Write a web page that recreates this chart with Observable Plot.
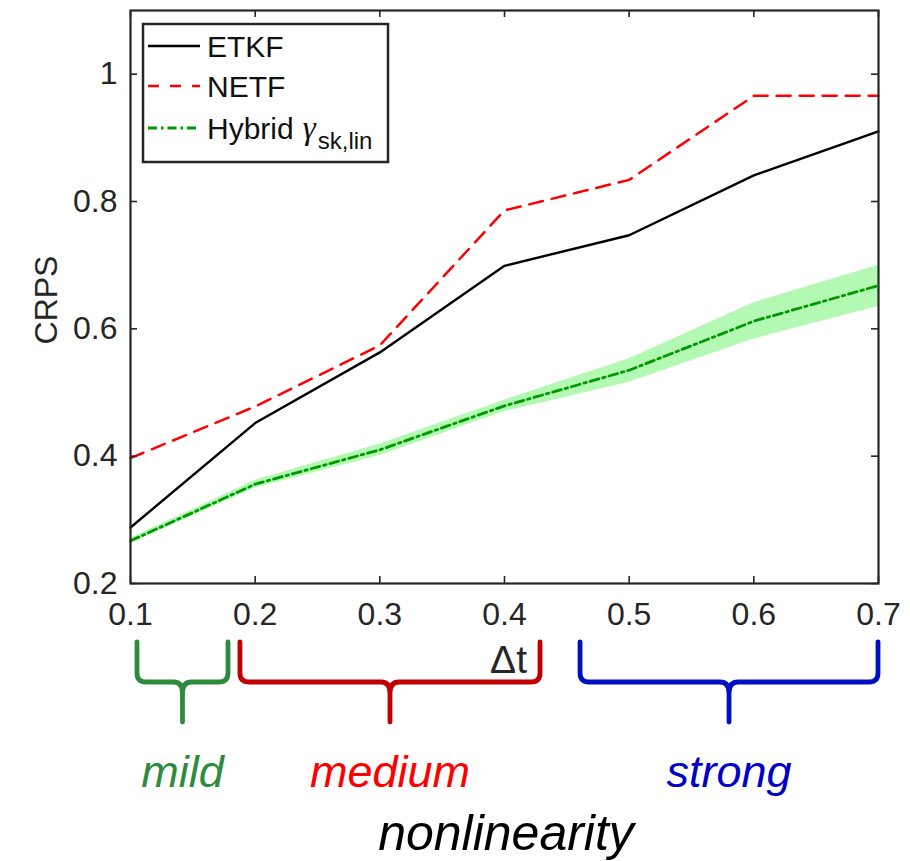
<!DOCTYPE html>
<html>
<head>
<meta charset="utf-8">
<script src="https://cdn.jsdelivr.net/npm/d3@7"></script>
<script src="https://cdn.jsdelivr.net/npm/@observablehq/plot@0.6"></script>
<style>
  html, body { margin: 0; padding: 0; background: #fff; }
  #chart svg { display: block; }
</style>
</head>
<body>
<div id="chart"></div>
<script>
// ---- data ----
const dt = [0.1, 0.2, 0.3, 0.4, 0.5, 0.6, 0.7];
const etkf = [0.288, 0.452, 0.563, 0.699, 0.747, 0.841, 0.910];
const netf = [0.397, 0.478, 0.574, 0.786, 0.834, 0.966, 0.966];
const hybrid = [0.267, 0.356, 0.410, 0.479, 0.535, 0.612, 0.668];
const hybridLo = [0.263, 0.350, 0.401, 0.470, 0.516, 0.584, 0.635];
const hybridHi = [0.271, 0.362, 0.419, 0.488, 0.553, 0.641, 0.700];
const xTicks = [0.1, 0.2, 0.3, 0.4, 0.5, 0.6, 0.7];
const yTicks = [0.2, 0.4, 0.6, 0.8, 1];
const seriesNames = ["ETKF", "NETF", "Hybrid"];
const regionNames = ["mild", "medium", "strong"];
const regionStart = [0.1056, 0.1882, 0.461];
const regionEnd = [0.1786, 0.4289, 0.700];

// ---- styles ----
const ink = "#262626";
const font = "'Liberation Sans', Arial, Helvetica, sans-serif";
const seriesStyle = [
  {stroke: "#000000", dash: null, width: 2.4},
  {stroke: "#ff0000", dash: "14,9", width: 2.5},
  {stroke: "#009a00", dash: "9,4,2.5,4", width: 2.8}
];
const regionBraceColor = ["#2e8b3d", "#c00000", "#0010c0"];
const regionTextColor = ["#2e8b3d", "#ff0000", "#0000c8"];

const rows = dt.map((x, i) => ({x, etkf: etkf[i], netf: netf[i], hyb: hybrid[i], lo: hybridLo[i], hi: hybridHi[i]}));

const W = 910, H = 861;
const mL = 130, mR = 32, mT = 10, mB = 278;
const frameW = W - mL - mR, frameH = H - mT - mB;
const tick = 7;

function legendMark(index, scales, values, dims) {
  const g = d3.create("svg:g").attr("font-family", font).attr("text-anchor", "start");
  const bx = dims.marginLeft + 13, by = dims.marginTop + 14;
  g.append("rect").attr("x", bx).attr("y", by).attr("width", 245).attr("height", 138)
    .attr("fill", "white").attr("stroke", ink).attr("stroke-width", 2.5);
  const rowY = [by + 22, by + 62, by + 104];
  seriesNames.forEach((name, i) => {
    const s = seriesStyle[i];
    g.append("line").attr("x1", bx + 5).attr("x2", bx + 57).attr("y1", rowY[i]).attr("y2", rowY[i])
      .attr("stroke", s.stroke).attr("stroke-width", s.width)
      .attr("stroke-dasharray", i === 1 ? "11,11" : s.dash);
    const t = g.append("text").attr("x", bx + 64).attr("y", rowY[i] + 11)
      .attr("text-anchor", "start").attr("font-size", 30).attr("fill", "#111");
    t.append("tspan").text(name);
    if (i === 2) {
      t.append("tspan").attr("font-family", "'Liberation Serif', 'DejaVu Serif', serif")
        .attr("font-style", "italic").attr("font-size", 33).attr("dx", 9).text("γ");
      t.append("tspan").attr("font-size", 24).attr("dy", 10).attr("dx", 2).text("sk,lin");
    }
  });
  return g.node();
}

function braceMark(index, scales, values, dims) {
  const x = scales.x;
  const g = d3.create("svg:g").attr("font-family", font);
  const top = 642, bar = 682, tip = 722, r = 9;
  regionNames.forEach((name, i) => {
    const a = x(regionStart[i]), b = x(regionEnd[i]), c = (a + b) / 2;
    const p = `M${a},${top} L${a},${bar - r} Q${a},${bar} ${a + r},${bar} L${c - r},${bar} Q${c},${bar} ${c},${bar + r + 2} L${c},${tip}` +
              ` M${b},${top} L${b},${bar - r} Q${b},${bar} ${b - r},${bar} L${c + r},${bar} Q${c},${bar} ${c},${bar + r + 2}`;
    g.append("path").attr("d", p).attr("fill", "none").attr("stroke", regionBraceColor[i])
      .attr("stroke-width", 4.8).attr("stroke-linecap", "round").attr("stroke-linejoin", "round");
    g.append("text").attr("x", c).attr("y", 787).attr("text-anchor", "middle")
      .attr("font-size", 45).attr("font-style", "italic").attr("fill", regionTextColor[i]).text(name);
  });
  g.append("text").attr("x", 527).attr("y", 673).attr("text-anchor", "end")
    .attr("font-size", 39).attr("fill", ink).text("Δt");
  g.append("text").attr("x", (x(0.1) + x(0.7)) / 2 + 2).attr("y", 850).attr("text-anchor", "middle")
    .attr("font-size", 50).attr("font-style", "italic").attr("fill", "#000").text("nonlinearity");
  return g.node();
}

const chart = Plot.plot({
  width: W, height: H,
  marginLeft: mL, marginRight: mR, marginTop: mT, marginBottom: mB,
  style: {fontFamily: font, color: ink, background: "white", overflow: "visible"},
  x: {domain: [0.1, 0.7]},
  y: {domain: [0.2, 1.1]},
  marks: [
    Plot.areaY(rows, {x: "x", y1: "lo", y2: "hi", fill: "#b3f9b3", fillOpacity: 1}),
    Plot.line(rows, {x: "x", y: "etkf", stroke: seriesStyle[0].stroke, strokeWidth: seriesStyle[0].width}),
    Plot.line(rows, {x: "x", y: "netf", stroke: seriesStyle[1].stroke, strokeWidth: seriesStyle[1].width, strokeDasharray: seriesStyle[1].dash}),
    Plot.line(rows, {x: "x", y: "hyb", stroke: seriesStyle[2].stroke, strokeWidth: seriesStyle[2].width, strokeDasharray: seriesStyle[2].dash}),
    Plot.ruleX(xTicks, {x: d => d, insetTop: frameH - tick, stroke: ink, strokeWidth: 1.6}),
    Plot.ruleX(xTicks, {x: d => d, insetBottom: frameH - tick, stroke: ink, strokeWidth: 1.6}),
    Plot.ruleY(yTicks, {y: d => d, insetRight: frameW - tick, stroke: ink, strokeWidth: 1.6}),
    Plot.ruleY(yTicks, {y: d => d, insetLeft: frameW - tick, stroke: ink, strokeWidth: 1.6}),
    Plot.frame({stroke: ink, strokeWidth: 2.2}),
    Plot.axisX({ticks: xTicks, tickSize: 0, tickPadding: 19, fontSize: 32, label: null, tickFormat: d => String(d), fill: ink}),
    Plot.axisY({ticks: yTicks, tickSize: 0, tickPadding: 13, fontSize: 32, label: null, tickFormat: d => String(d), fill: ink}),
    Plot.text(["CRPS"], {frameAnchor: "left", dx: -84, dy: 3, rotate: -90, text: d => d, fontSize: 32, fill: ink, textAnchor: "middle", lineAnchor: "middle"}),
    legendMark,
    braceMark
  ]
});
document.getElementById("chart").appendChild(chart);
</script>
</body>
</html>
